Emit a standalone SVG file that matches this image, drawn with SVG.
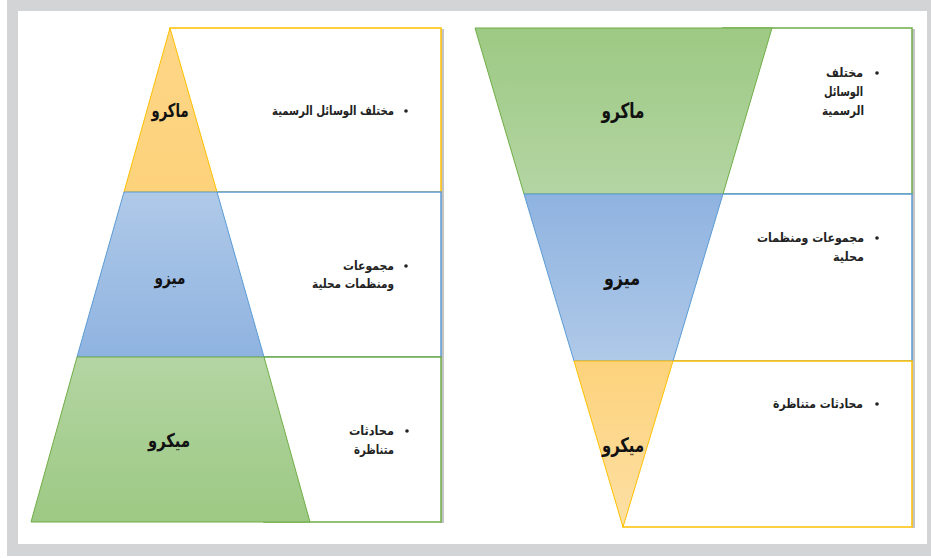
<svg xmlns="http://www.w3.org/2000/svg" width="931" height="558" viewBox="0 0 931 558">
<style>
.lbl{font-family:"DejaVu Sans",sans-serif;font-weight:bold;fill:#111;text-anchor:middle}
.txt{font-family:"DejaVu Sans",sans-serif;font-weight:bold;font-size:12.5px;fill:#222;text-anchor:end}
.bul{fill:#222}
.bx{fill:#fff;stroke-width:1.5}
.y{stroke:#ffc000}.b{stroke:#5b9bd5}.g{stroke:#70ad47}
.sh{fill:#c4c4c4}
</style>
<defs>
<linearGradient id="oD" x1="0" y1="0" x2="0" y2="1"><stop offset="0" stop-color="#fdd687"/><stop offset="1" stop-color="#fdd27b"/></linearGradient>
<linearGradient id="bD" x1="0" y1="0" x2="0" y2="1"><stop offset="0" stop-color="#afc9e8"/><stop offset="1" stop-color="#8fb3e0"/></linearGradient>
<linearGradient id="gD" x1="0" y1="0" x2="0" y2="1"><stop offset="0" stop-color="#b4d5a3"/><stop offset="1" stop-color="#9cc983"/></linearGradient>
<linearGradient id="gU" x1="0" y1="0" x2="0" y2="1"><stop offset="0" stop-color="#9cc983"/><stop offset="1" stop-color="#b4d5a3"/></linearGradient>
<linearGradient id="bU" x1="0" y1="0" x2="0" y2="1"><stop offset="0" stop-color="#8fb3e0"/><stop offset="1" stop-color="#afc9e8"/></linearGradient>
<linearGradient id="oU" x1="0" y1="0" x2="0" y2="1"><stop offset="0" stop-color="#fdd27b"/><stop offset="1" stop-color="#fde0a5"/></linearGradient>
</defs>
<rect x="0" y="0" width="931" height="558" fill="#fff"/>
<rect x="7" y="0" width="924" height="556" fill="#d3d4d6"/>
<rect x="18" y="11" width="909" height="533" fill="#fff"/>

<g id="connectors"/>

<!-- Left pyramid -->
<g id="left-macro-box">
<rect class="sh" x="441" y="29" width="3" height="494"/>
<rect class="bx y" x="170" y="28" width="271" height="164"/>
<circle class="bul" cx="406" cy="111" r="1.8"/>
<text class="txt" x="394" y="115" textLength="122" lengthAdjust="spacingAndGlyphs">مختلف الوسائل الرسمية</text>
</g>
<g id="left-meso-box">
<rect class="bx b" x="217" y="192" width="224" height="165"/>
<circle class="bul" cx="406" cy="266" r="1.8"/>
<text class="txt" x="394" y="270" textLength="51" lengthAdjust="spacingAndGlyphs">مجموعات</text>
<text class="txt" x="394" y="288" textLength="82" lengthAdjust="spacingAndGlyphs">ومنظمات محلية</text>
</g>
<g id="left-micro-box">
<rect class="bx g" x="264" y="357" width="177" height="165"/>
<circle class="bul" cx="407" cy="431" r="1.8"/>
<text class="txt" x="394" y="435" textLength="45" lengthAdjust="spacingAndGlyphs">محادثات</text>
<text class="txt" x="394" y="454" textLength="40" lengthAdjust="spacingAndGlyphs">متناظرة</text>
</g>
<g id="left-macro">
<polygon points="170,28 217,192 124,192" fill="url(#oD)" stroke="#ffc000" stroke-width="1"/>
<text class="lbl" x="170" y="117" font-size="19" textLength="37" lengthAdjust="spacingAndGlyphs">ماكرو</text>
</g>
<g id="left-meso">
<polygon points="124,192 217,192 264,357 77,357" fill="url(#bD)" stroke="#5b9bd5" stroke-width="1"/>
<text class="lbl" x="170" y="284" font-size="18" textLength="31" lengthAdjust="spacingAndGlyphs">ميزو</text>
</g>
<g id="left-micro">
<polygon points="77,357 264,357 310,522 31,522" fill="url(#gD)" stroke="#70ad47" stroke-width="1"/>
<text class="lbl" x="169" y="447" font-size="19" textLength="42" lengthAdjust="spacingAndGlyphs">ميكرو</text>
</g>

<!-- Right inverted pyramid -->
<g id="right-macro-box">
<rect class="sh" x="912" y="29" width="3" height="499"/>
<rect class="bx g" x="723" y="28" width="189" height="166"/>
<circle class="bul" cx="877" cy="73" r="1.8"/>
<text class="txt" x="863" y="77" textLength="37" lengthAdjust="spacingAndGlyphs">مختلف</text>
<text class="txt" x="863" y="96" textLength="39" lengthAdjust="spacingAndGlyphs">الوسائل</text>
<text class="txt" x="864" y="115" textLength="42" lengthAdjust="spacingAndGlyphs">الرسمية</text>
</g>
<g id="right-meso-box">
<rect class="bx b" x="673" y="194" width="239" height="167"/>
<circle class="bul" cx="877" cy="238" r="1.8"/>
<text class="txt" x="864" y="242" textLength="107" lengthAdjust="spacingAndGlyphs">مجموعات ومنظمات</text>
<text class="txt" x="864" y="261" textLength="31" lengthAdjust="spacingAndGlyphs">محلية</text>
</g>
<g id="right-micro-box">
<rect class="bx y" x="623" y="361" width="289" height="166"/>
<circle class="bul" cx="877" cy="404" r="1.8"/>
<text class="txt" x="863" y="408" textLength="90" lengthAdjust="spacingAndGlyphs">محادثات متناظرة</text>
</g>
<g id="right-macro">
<polygon points="475,28 772,28 723,194 524,194" fill="url(#gU)" stroke="#70ad47" stroke-width="1"/>
<text class="lbl" x="623" y="118" font-size="21" textLength="43" lengthAdjust="spacingAndGlyphs">ماكرو</text>
</g>
<g id="right-meso">
<polygon points="524,194 723,194 673,361 574,361" fill="url(#bU)" stroke="#5b9bd5" stroke-width="1"/>
<text class="lbl" x="622" y="285" font-size="20" textLength="36" lengthAdjust="spacingAndGlyphs">ميزو</text>
</g>
<g id="right-micro">
<polygon points="574,361 673,361 623,527" fill="url(#oU)" stroke="#ffc000" stroke-width="1"/>
<text class="lbl" x="623" y="452" font-size="20" textLength="42" lengthAdjust="spacingAndGlyphs">ميكرو</text>
</g>
</svg>
